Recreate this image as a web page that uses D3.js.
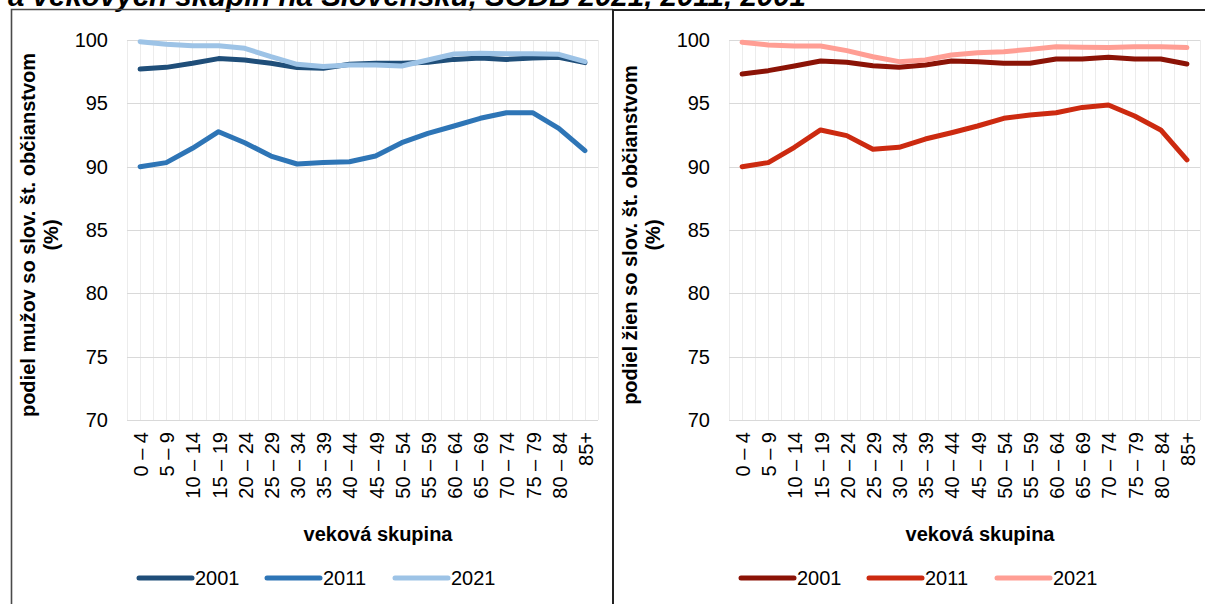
<!DOCTYPE html>
<html>
<head>
<meta charset="utf-8">
<script src="https://cdn.jsdelivr.net/npm/d3@7"></script>
<style>
  body { margin: 0; background: #fff; }
  svg { display: block; font-family: "Liberation Sans", Arial, sans-serif; }
</style>
</head>
<body>
<svg width="1205" height="604"></svg>
<script>
const ageGroups = ["0 – 4", "5 – 9", "10 – 14", "15 – 19", "20 – 24", "25 – 29", "30 – 34", "35 – 39",
  "40 – 44", "45 – 49", "50 – 54", "55 – 59", "60 – 64", "65 – 69", "70 – 74", "75 – 79", "80 – 84", "85+"];
const years = ["2001", "2011", "2021"];
const yTicks = [70, 75, 80, 85, 90, 95, 100];

// muzi
const men2001 = [97.71, 97.84, 98.16, 98.53, 98.42, 98.16, 97.82, 97.76, 98.08, 98.16, 98.16, 98.24, 98.47, 98.58, 98.47, 98.58, 98.63, 98.21];
const men2011 = [90.0, 90.32, 91.45, 92.76, 91.89, 90.84, 90.21, 90.32, 90.39, 90.84, 91.89, 92.63, 93.21, 93.82, 94.26, 94.26, 93.03, 91.26];
const men2021 = [99.87, 99.66, 99.55, 99.55, 99.34, 98.68, 98.08, 97.9, 98.03, 98.03, 97.95, 98.42, 98.89, 98.95, 98.92, 98.92, 98.87, 98.29];

// zeny
const women2001 = [97.32, 97.58, 97.95, 98.34, 98.24, 97.97, 97.84, 98.03, 98.34, 98.29, 98.16, 98.16, 98.5, 98.5, 98.63, 98.5, 98.5, 98.1];
const women2011 = [90.0, 90.32, 91.53, 92.9, 92.45, 91.37, 91.53, 92.18, 92.68, 93.21, 93.82, 94.08, 94.26, 94.68, 94.87, 94.0, 92.9, 90.53];
const women2021 = [99.82, 99.61, 99.53, 99.53, 99.16, 98.68, 98.29, 98.42, 98.82, 99.0, 99.08, 99.26, 99.47, 99.42, 99.4, 99.47, 99.47, 99.4];

const menColors = ["#1f4e79", "#2e75b6", "#9dc3e6"];
const womenColors = ["#8b1306", "#cc2a10", "#ff9e94"];

const svg = d3.select("svg");

// title (cut off at the top, like in the source)
svg.append("text")
  .attr("x", 8).attr("y", 6)
  .style("font-size", "29.5px")
  .style("font-weight", "bold")
  .style("font-style", "italic")
  .text("a vekových skupín na Slovensku, SODB 2021, 2011, 2001");

// frames
svg.append("path")
  .attr("d", "M11.5,700 V9.5 H613")
  .attr("fill", "none").attr("stroke", "#4a4a4a").attr("stroke-width", 1.6);
svg.append("path")
  .attr("d", "M613,700 V10 H1210")
  .attr("fill", "none").attr("stroke", "#222").attr("stroke-width", 2);

function drawChart(opts) {
  const g = svg.append("g");
  const x = d3.scaleBand().domain(ageGroups).range([opts.x0, opts.x0 + 471]).padding(0);
  const y = d3.scaleLinear().domain([70, 100]).range([420, 40]);
  const bw = x.bandwidth();

  // vertical gridlines at band edges and centers
  const vx = [];
  ageGroups.forEach(d => { vx.push(x(d)); vx.push(x(d) + bw / 2); });
  vx.push(opts.x0 + 471);
  g.selectAll(".vgrid").data(vx).enter().append("line")
    .attr("x1", d => Math.round(d) + 0.5).attr("x2", d => Math.round(d) + 0.5)
    .attr("y1", y(100)).attr("y2", y(70))
    .attr("stroke", "#ececec").attr("stroke-width", 1);

  // horizontal gridlines
  g.selectAll(".hgrid").data(yTicks).enter().append("line")
    .attr("x1", opts.x0).attr("x2", opts.x0 + 471)
    .attr("y1", d => Math.round(y(d)) + 0.5).attr("y2", d => Math.round(y(d)) + 0.5)
    .attr("stroke", "#d9d9d9").attr("stroke-width", 1);

  // y tick labels
  g.selectAll(".ytick").data(yTicks).enter().append("text")
    .attr("x", opts.x0 - 19).attr("y", d => y(d))
    .attr("dy", "0.35em")
    .attr("text-anchor", "end")
    .style("font-size", "20px")
    .text(d => d);

  // x tick labels (rotated)
  g.selectAll(".xtick").data(ageGroups).enter().append("text")
    .attr("transform", d => `translate(${x(d) + bw / 2 + 1},432) rotate(-90)`)
    .attr("dy", "0.35em")
    .attr("text-anchor", "end")
    .style("font-size", "20px")
    .text(d => d);

  // axis titles
  const yt = g.append("text")
    .attr("transform", `translate(${opts.x0 - 92},235) rotate(-90)`)
    .attr("text-anchor", "middle")
    .style("font-size", "20px")
    .style("font-weight", "bold");
  yt.append("tspan").attr("x", 0).attr("y", 0).text(opts.yTitle);
  yt.append("tspan").attr("x", 0).attr("y", 23).text("(%)");

  g.append("text")
    .attr("x", opts.x0 + 251).attr("y", 541)
    .attr("text-anchor", "middle")
    .style("font-size", "20px")
    .style("font-weight", "bold")
    .text("veková skupina");

  // lines
  const line = d3.line()
    .x((d, i) => x(ageGroups[i]) + bw / 2)
    .y(d => y(d));

  g.selectAll(".series").data(opts.series).enter().append("path")
    .attr("d", d => line(d))
    .attr("fill", "none")
    .attr("stroke", (d, i) => opts.colors[i])
    .attr("stroke-width", 5)
    .attr("stroke-linejoin", "round")
    .attr("stroke-linecap", "round");

  // legend
  const leg = g.selectAll(".leg").data(years).enter().append("g")
    .attr("transform", (d, i) => `translate(${opts.x0 + 10 + i * 128},578)`);
  leg.append("line")
    .attr("x1", 2).attr("x2", 55)
    .attr("stroke", (d, i) => opts.colors[i])
    .attr("stroke-width", 5)
    .attr("stroke-linecap", "round");
  leg.append("text")
    .attr("x", 58).attr("y", 7)
    .style("font-size", "20px")
    .text(d => d);
}

drawChart({
  x0: 127,
  yTitle: "podiel mužov so slov. št. občianstvom",
  series: [men2001, men2011, men2021],
  colors: menColors
});

drawChart({
  x0: 729,
  yTitle: "podiel žien so slov. št. občianstvom",
  series: [women2001, women2011, women2021],
  colors: womenColors
});
</script>
</body>
</html>
